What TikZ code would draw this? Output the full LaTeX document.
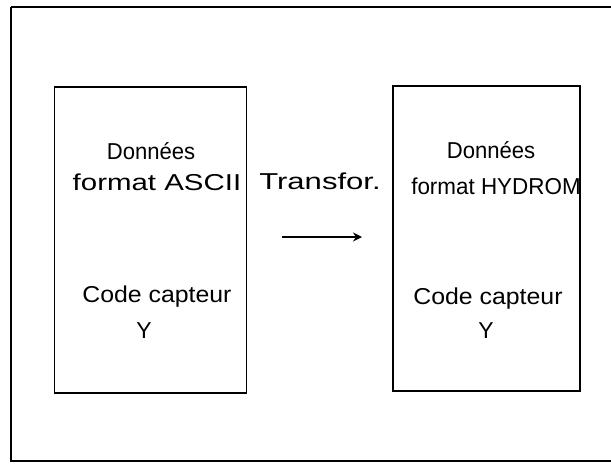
\documentclass[tikz,border=0pt]{standalone}
\usepackage{fontspec}
\usepackage{graphicx}
\setmainfont{Liberation Sans}
\usetikzlibrary{arrows.meta}
\newcommand{\sxtxt}[2]{\scalebox{#1}[1]{#2}}
\begin{document}
\begin{tikzpicture}[x=1pt,y=-1pt,
  frame/.style={draw=black,line width=1.8pt},
  box/.style={draw=black,line width=1.8pt},
  lbl/.style={font=\fontsize{23}{25}\selectfont,inner sep=0pt,anchor=center}]
\useasboundingbox (0,0) rectangle (611,464);
\fill[white] (0,0) rectangle (611,464);
\draw[frame] (11,7) -- (612,7) (11,7) -- (11,461) -- (612,461);
\node[box,minimum width=192pt,minimum height=306pt,inner sep=0pt] (L) at (150.5,240) {};
\node[box,minimum width=187pt,minimum height=305pt,inner sep=0pt] (R) at (486.5,238.5) {};
\node[lbl] (l1) at (151,151) {\sxtxt{0.96}{Données}};
\node[lbl] (l2) at (157,182) {\sxtxt{1.28}{format ASCII}};
\node[lbl] (l3) at (157,297) {\sxtxt{1.08}{Code capteur}};
\node[lbl] (l4) at (144,331) {Y};
\node[lbl] (r1) at (491,150) {\sxtxt{0.96}{Données}};
\node[lbl] (r2) at (496,186) {\sxtxt{0.975}{format HYDROM}};
\node[lbl] (r3) at (488,299) {\sxtxt{1.08}{Code capteur}};
\node[lbl] (r4) at (486,331) {Y};
\node[lbl] (t) at (320,181) {\sxtxt{1.35}{Transfor.}};
\coordinate (a1) at (282,237);
\coordinate (a2) at (362,237);
\draw[line width=2.2pt,-{Stealth[length=9pt,width=9pt]}] (a1) -- (a2);
\end{tikzpicture}
\end{document}
